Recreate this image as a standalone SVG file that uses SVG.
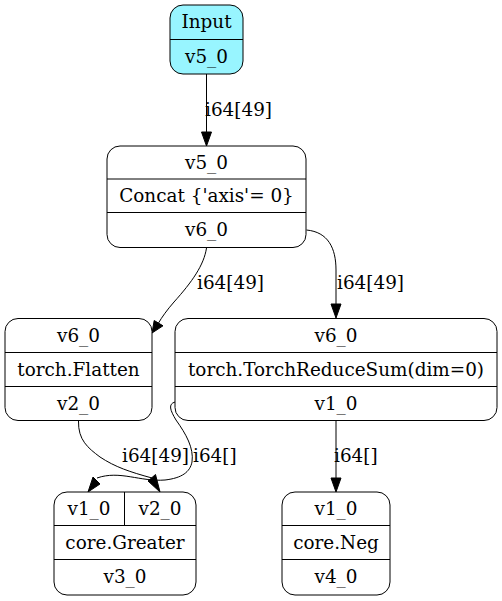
<svg xmlns="http://www.w3.org/2000/svg" width="502" height="601" viewBox="0 0 502 601">
<defs>
<style>
text{font-family:"DejaVu Serif","Liberation Serif",serif;font-size:18.4px;fill:#000}
.n{text-anchor:middle}
.box{fill:#fff;stroke:#000;stroke-width:1}
.in{fill:#98f5ff;stroke:#000;stroke-width:1}
.sep{stroke:#000;stroke-width:1;fill:none}
.e{stroke:#000;stroke-width:1;fill:none}
.ah{fill:#000;stroke:#000;stroke-width:1}
</style>
</defs>
<rect width="502" height="601" fill="#fff"/>
<g id="connectors">
<path class="e" d="M206.5,74 L206.5,132"/>
<polygon class="ah" points="201.5,132 211.5,132 206.5,146"/>
<text x="205" y="116">i64[49]</text>

<path class="e" d="M206.5,248 C204,265 192,282 174,302 C167,310 162,317 158.5,323"/>
<polygon class="ah" points="154.2,320.5 163,325.8 152,333"/>
<text x="197" y="289">i64[49]</text>

<path class="e" d="M306.5,230 C328,232 336,248 336,270 L336,304"/>
<polygon class="ah" points="331,304 341,304 336,318"/>
<text x="337" y="289">i64[49]</text>

<path class="e" d="M78.5,421 C78,440 88,448 100,457 C115,467 130,472 152,478"/>
<polygon class="ah" points="148,481 155.5,474.5 160,492"/>
<text x="122" y="462">i64[49]</text>

<path class="e" d="M175,402 C168,404 170,410 176,420 C186,434 194,448 192,462 C190,472 182,478 165,480 C140,482 120,470 97,478"/>
<polygon class="ah" points="93,477 100,484 88,492"/>
<text x="193" y="462">i64[]</text>

<path class="e" d="M336,420.5 L336,478"/>
<polygon class="ah" points="331,478 341,478 336,492"/>
<text x="334" y="462">i64[]</text>
</g>

<g id="input">
<rect class="in" x="170" y="5" width="73" height="69" rx="13"/>
<line class="sep" x1="170" y1="39.5" x2="243" y2="39.5"/>
<text class="n" x="206.5" y="28">Input</text>
<text class="n" x="206.5" y="63">v5_0</text>
</g>

<g id="concat">
<rect class="box" x="107" y="146" width="199" height="101.5" rx="13"/>
<line class="sep" x1="107" y1="179" x2="306" y2="179"/>
<line class="sep" x1="107" y1="212.5" x2="306" y2="212.5"/>
<text class="n" x="206.5" y="168.5">v5_0</text>
<text class="n" x="206.5" y="202">Concat {'axis'= 0}</text>
<text class="n" x="206.5" y="236">v6_0</text>
</g>

<g id="flatten">
<rect class="box" x="5" y="318.5" width="147" height="102" rx="13"/>
<line class="sep" x1="5" y1="352.5" x2="152" y2="352.5"/>
<line class="sep" x1="5" y1="386.5" x2="152" y2="386.5"/>
<text class="n" x="78.5" y="341.5">v6_0</text>
<text class="n" x="78.5" y="375.5">torch.Flatten</text>
<text class="n" x="78.5" y="409.5">v2_0</text>
</g>

<g id="reducesum">
<rect class="box" x="175" y="318.5" width="322" height="102" rx="13"/>
<line class="sep" x1="175" y1="352.5" x2="497" y2="352.5"/>
<line class="sep" x1="175" y1="386.5" x2="497" y2="386.5"/>
<text class="n" x="336" y="341.5">v6_0</text>
<text class="n" x="336" y="375.5">torch.TorchReduceSum(dim=0)</text>
<text class="n" x="336" y="409.5">v1_0</text>
</g>

<g id="greater">
<rect class="box" x="54" y="492" width="142" height="103" rx="13"/>
<line class="sep" x1="124.5" y1="492" x2="124.5" y2="525.5"/>
<line class="sep" x1="54" y1="525.5" x2="196" y2="525.5"/>
<line class="sep" x1="54" y1="559.5" x2="196" y2="559.5"/>
<text class="n" x="89" y="514.5">v1_0</text>
<text class="n" x="160" y="514.5">v2_0</text>
<text class="n" x="125" y="548.5">core.Greater</text>
<text class="n" x="125" y="583">v3_0</text>
</g>

<g id="neg">
<rect class="box" x="282" y="492" width="108" height="103" rx="13"/>
<line class="sep" x1="282" y1="525.5" x2="390" y2="525.5"/>
<line class="sep" x1="282" y1="559.5" x2="390" y2="559.5"/>
<text class="n" x="336" y="514.5">v1_0</text>
<text class="n" x="336" y="548.5">core.Neg</text>
<text class="n" x="336" y="583">v4_0</text>
</g>
</svg>
